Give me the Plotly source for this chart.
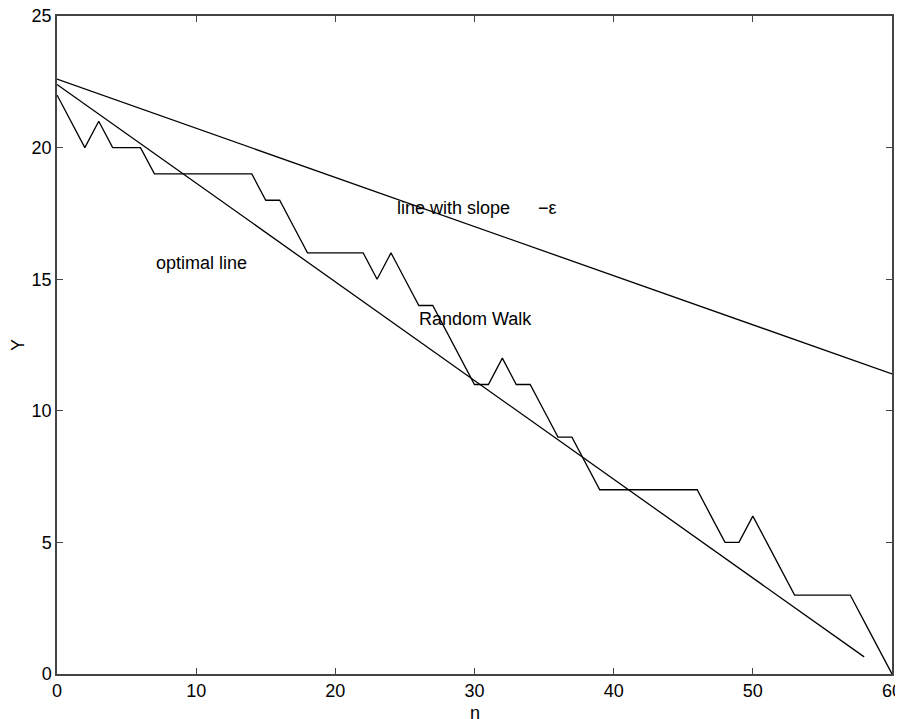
import plotly.graph_objects as go

# Random walk values Y at n = 0..60
walk_n = list(range(61))
walk_y = [22, 21, 20, 21, 20, 20, 20, 19, 19, 19, 19, 19, 19, 19, 19, 18, 18, 17, 16, 16,
          16, 16, 16, 15, 16, 15, 14, 14, 13, 12, 11, 11, 12, 11, 11, 10, 9, 9, 8, 7,
          7, 7, 7, 7, 7, 7, 7, 6, 5, 5, 6, 5, 4, 3, 3, 3, 3, 3, 2, 1, 0]

# Optimal line endpoints
opt_n = [0, 58]
opt_y = [22.4, 0.65]

# Line with slope -epsilon endpoints
eps_n = [0, 60]
eps_y = [22.6, 11.4]

x_ticks = [0, 10, 20, 30, 40, 50, 60]
y_ticks = [0, 5, 10, 15, 20, 25]

FONT = "Liberation Sans, Arial, Helvetica, sans-serif"

fig = go.Figure()
line_style = dict(color="black", width=1.3)
fig.add_trace(go.Scatter(x=walk_n, y=walk_y, mode="lines", line=line_style, showlegend=False))
fig.add_trace(go.Scatter(x=opt_n, y=opt_y, mode="lines", line=line_style, showlegend=False))
fig.add_trace(go.Scatter(x=eps_n, y=eps_y, mode="lines", line=line_style, showlegend=False))

ann_font = dict(family=FONT, size=18, color="black")
fig.add_annotation(x=7.0, y=15.6, text="optimal line", showarrow=False,
                   xanchor="left", yanchor="middle", font=ann_font)
fig.add_annotation(x=25.85, y=13.5, text="Random Walk", showarrow=False,
                   xanchor="left", yanchor="middle", font=ann_font)
fig.add_annotation(x=24.3, y=17.7, text="line with slope", showarrow=False,
                   xanchor="left", yanchor="middle", font=ann_font)
fig.add_annotation(x=34.45, y=17.7, text="−ε", showarrow=False,
                   xanchor="left", yanchor="middle", font=ann_font)
# x-axis title placed as an annotation just below the tick labels
fig.add_annotation(x=0.5, y=-0.059, xref="paper", yref="paper", text="n", showarrow=False,
                   xanchor="center", yanchor="middle", font=ann_font)

axis_common = dict(
    showline=True, mirror="ticks", linecolor="#444", linewidth=1.5,
    ticks="inside", ticklen=6, tickcolor="#444", tickwidth=1,
    showgrid=False, zeroline=False, automargin=False,
    ticklabeloverflow="allow",
    tickfont=dict(family=FONT, size=18, color="black"),
)

fig.update_layout(
    width=895, height=711,
    margin=dict(l=49, r=11, t=8, b=45),
    plot_bgcolor="white", paper_bgcolor="white",
    xaxis=dict(range=[0, 60], tickvals=x_ticks, **axis_common),
    yaxis=dict(range=[0, 25], tickvals=y_ticks,
               title=dict(text="Y", font=dict(family=FONT, size=18, color="black"), standoff=14),
               **axis_common),
)

fig.write_html("out.html")
